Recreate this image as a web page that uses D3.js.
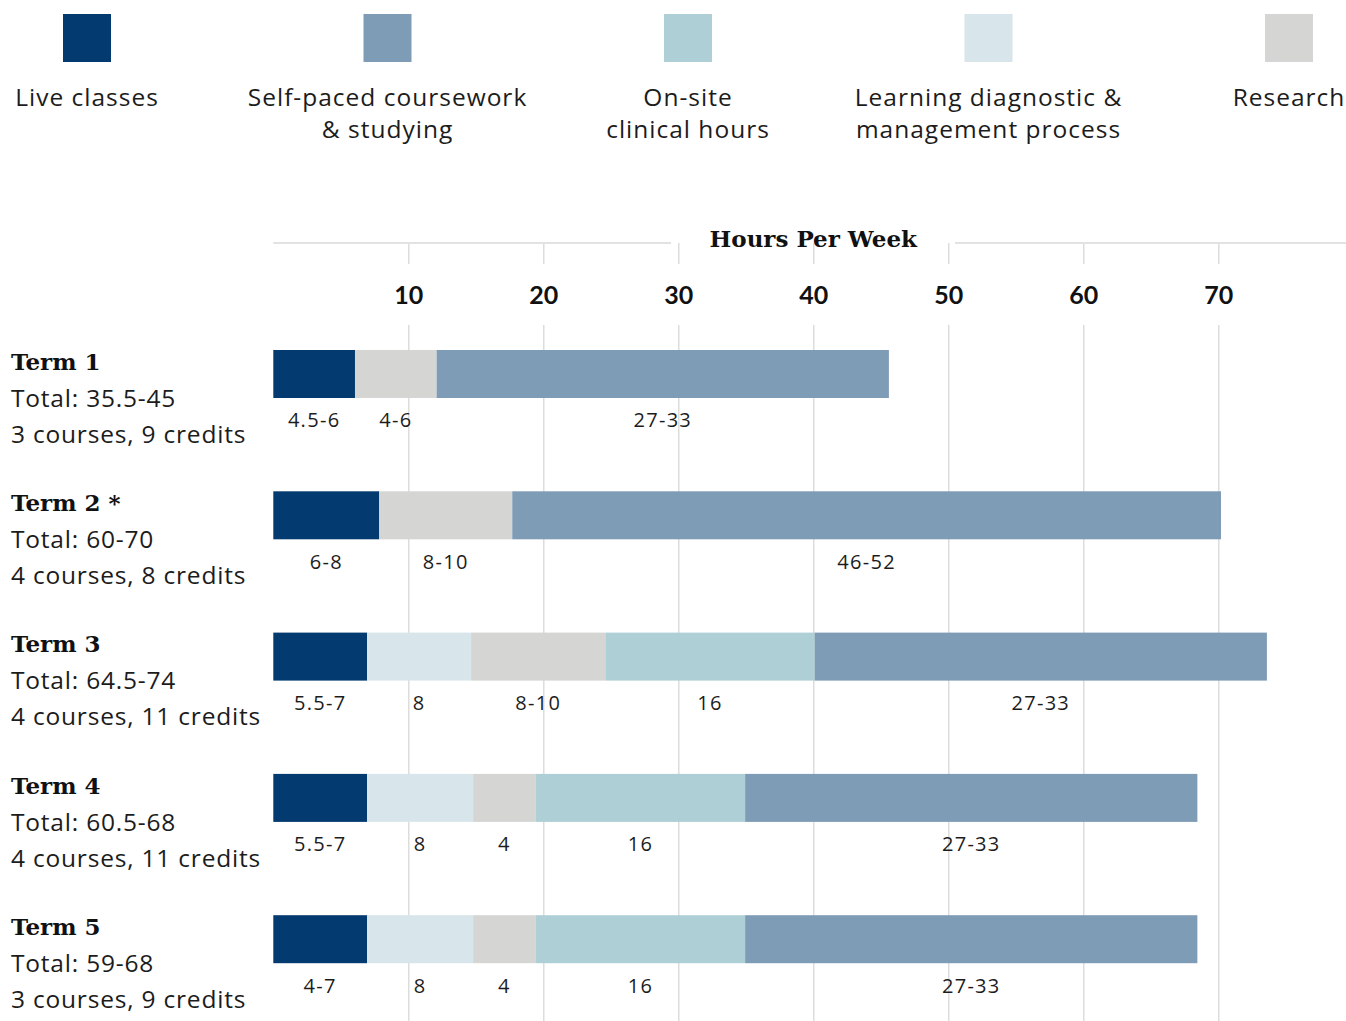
<!DOCTYPE html>
<html>
<head>
<meta charset="utf-8">
<script src="https://cdn.jsdelivr.net/npm/d3@7"></script>
<style>
  body { margin: 0; background: #fff; }
  svg { display: block; }
  .sans { font-family: "Open Sans", sans-serif; font-weight: 400; fill: #1c1c1c; }
  .slab { font-family: "DejaVu Serif", serif; font-weight: bold; fill: #111; }
</style>
</head>
<body>
<svg></svg>
<script>
// categories
const series = ["Live classes", "Self-paced coursework & studying", "On-site clinical hours",
                "Learning diagnostic & management process", "Research"];
const legendLines = [["Live classes"], ["Self-paced coursework", "& studying"], ["On-site", "clinical hours"],
                     ["Learning diagnostic &", "management process"], ["Research"]];
const colors = ["#033a6f", "#7f9cb6", "#afcfd6", "#d8e6eb", "#d5d5d3"];

const terms = ["Term 1", "Term 2 *", "Term 3", "Term 4", "Term 5"];
const totals = ["Total: 35.5-45", "Total: 60-70", "Total: 64.5-74", "Total: 60.5-68", "Total: 59-68"];
const courses = ["3 courses, 9 credits", "4 courses, 8 credits", "4 courses, 11 credits",
                 "4 courses, 11 credits", "3 courses, 9 credits"];

// hours per week as drawn (bar lengths)
const liveHours      = [6.05, 7.85, 6.95, 6.95, 6.95];
const diagHours      = [0, 0, 7.7, 7.85, 7.85];
const researchHours  = [6.05, 9.85, 9.95, 4.65, 4.65];
const clinicalHours  = [0, 0, 15.5, 15.5, 15.5];
const selfPacedHours = [33.5, 52.5, 33.5, 33.5, 33.5];

// range labels under each segment
const liveLabels      = ["4.5-6", "6-8", "5.5-7", "5.5-7", "4-7"];
const diagLabels      = ["", "", "8", "8", "8"];
const researchLabels  = ["4-6", "8-10", "8-10", "4", "4"];
const clinicalLabels  = ["", "", "16", "16", "16"];
const selfPacedLabels = ["27-33", "46-52", "27-33", "27-33", "27-33"];

const tickValues = [10, 20, 30, 40, 50, 60, 70];

const width = 1346;
const height = 1021;

// stack order left to right
const keys = ["live", "diag", "research", "clinical", "self"];
const keyColor = {live: colors[0], diag: colors[3], research: colors[4], clinical: colors[2], self: colors[1]};
const keyLabels = {live: liveLabels, diag: diagLabels, research: researchLabels, clinical: clinicalLabels, self: selfPacedLabels};

const table = terms.map((t, i) => ({
  term: t,
  live: liveHours[i],
  diag: diagHours[i],
  research: researchHours[i],
  clinical: clinicalHours[i],
  self: selfPacedHours[i]
}));

const stacked = d3.stack().keys(keys)(table);

const x = d3.scaleLinear().domain([0, 70]).range([273.3, 1218.3]);
const y = d3.scaleBand().domain(terms).range([350, 350 + 5 * 141.3]);
const barH = 48;

const svg = d3.select("svg").attr("width", width).attr("height", height);

// legend
const lx = d3.scalePoint().domain(series).range([87, 1289]);
const legend = svg.append("g")
  .selectAll("g")
  .data(series)
  .join("g")
    .attr("transform", d => `translate(${lx(d)},0)`);

legend.append("rect")
  .attr("x", -24).attr("y", 14)
  .attr("width", 48).attr("height", 48)
  .attr("fill", (d, i) => colors[i]);

legend.append("text")
  .attr("class", "sans")
  .attr("text-anchor", "middle")
  .style("font-size", "24.5px")
  .style("letter-spacing", "1px")
  .selectAll("tspan")
  .data((d, i) => legendLines[i])
  .join("tspan")
    .attr("x", 0)
    .attr("y", (d, i) => 106 + i * 32)
    .text(d => d);

// gridlines, top stub and main part
svg.append("g")
  .attr("transform", "translate(0,243)")
  .call(d3.axisBottom(x).tickValues(tickValues).tickSize(21).tickFormat(""))
  .call(g => g.select(".domain").remove())
  .call(g => g.selectAll("line").attr("stroke", "#d7d7d7").attr("stroke-width", 1.3));

svg.append("g")
  .attr("transform", "translate(0,325)")
  .call(d3.axisBottom(x).tickValues(tickValues).tickSize(height - 325).tickFormat(""))
  .call(g => g.select(".domain").remove())
  .call(g => g.selectAll("line").attr("stroke", "#d7d7d7").attr("stroke-width", 1.3));

// header rule with title gap
svg.append("line")
  .attr("x1", x(0)).attr("x2", 671).attr("y1", 243).attr("y2", 243)
  .attr("stroke", "#e2e2e2").attr("stroke-width", 2);
svg.append("line")
  .attr("x1", 955).attr("x2", width).attr("y1", 243).attr("y2", 243)
  .attr("stroke", "#e2e2e2").attr("stroke-width", 2);

svg.append("text")
  .attr("class", "slab")
  .attr("x", x(40))
  .attr("y", 246.5)
  .attr("text-anchor", "middle")
  .style("font-size", "23px")
  .text("Hours Per Week");

// tick labels
svg.append("g")
  .attr("transform", "translate(0,303.5)")
  .call(d3.axisTop(x).tickValues(tickValues).tickSize(0).tickPadding(0))
  .call(g => g.select(".domain").remove())
  .call(g => g.selectAll("text")
    .attr("fill", "#111")
    .style("font-family", "Lato, sans-serif")
    .style("font-weight", "bold")
    .style("font-size", "25px"));

// bars
svg.append("g")
  .selectAll("g")
  .data(stacked)
  .join("g")
    .attr("fill", d => keyColor[d.key])
  .selectAll("rect")
  .data(d => d)
  .join("rect")
    .attr("x", d => x(d[0]))
    .attr("y", d => y(d.data.term))
    .attr("width", d => x(d[1]) - x(d[0]))
    .attr("height", barH);

// segment labels
svg.append("g")
  .selectAll("g")
  .data(stacked)
  .join("g")
  .selectAll("text")
  .data(s => s.map((d, i) => ({d, label: keyLabels[s.key][i]})).filter(o => o.label))
  .join("text")
    .attr("class", "sans")
    .attr("x", o => (x(o.d[0]) + x(o.d[1])) / 2)
    .attr("y", o => y(o.d.data.term) + 77.3)
    .attr("text-anchor", "middle")
    .style("font-size", "20px")
    .style("letter-spacing", "1.3px")
    .text(o => o.label);

// row labels
const rows = svg.append("g")
  .selectAll("g")
  .data(terms)
  .join("g")
    .attr("transform", d => `translate(11,${y(d)})`);

rows.append("text")
  .attr("class", "slab")
  .attr("y", 19.7)
  .style("font-size", "23px")
  .text(d => d);

rows.append("text")
  .attr("class", "sans")
  .attr("y", 56.7)
  .style("font-size", "24.5px")
  .style("letter-spacing", "0.8px")
  .text((d, i) => totals[i]);

rows.append("text")
  .attr("class", "sans")
  .attr("y", 92.7)
  .style("font-size", "24.5px")
  .style("letter-spacing", "0.8px")
  .text((d, i) => courses[i]);
</script>
</body>
</html>
